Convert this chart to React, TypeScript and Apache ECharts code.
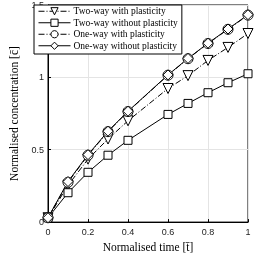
import React, { useEffect, useRef } from "react";
import * as echarts from "echarts";

const times = [0, 0.1, 0.2, 0.3, 0.4, 0.6, 0.7, 0.8, 0.9, 1.0];
const twoWayPlastic = [0.03, 0.254, 0.435, 0.574, 0.70, 0.923, 1.012, 1.117, 1.207, 1.303];
const twoWayNoPlastic = [0.03, 0.203, 0.344, 0.462, 0.565, 0.744, 0.82, 0.894, 0.963, 1.025];
const oneWayPlastic = [0.03, 0.275, 0.462, 0.625, 0.764, 1.015, 1.129, 1.234, 1.332, 1.43];
const oneWayNoPlastic = [0.03, 0.28, 0.466, 0.628, 0.766, 1.017, 1.131, 1.236, 1.334, 1.433];
const xTicks = [0, 0.2, 0.4, 0.6, 0.8, 1];
const yTicks = [0, 0.5, 1, 1.5];

const names = [
  "Two-way with plasticity",
  "Two-way without plasticity",
  "One-way with plasticity",
  "One-way without plasticity",
];

export default function App() {
  const ref = useRef<HTMLDivElement>(null);
  useEffect(() => {
    if (!ref.current) return;
    const chart = echarts.init(ref.current, null, { renderer: "svg" });
    const mk = (vals: number[]) => times.map((t, i) => [t, vals[i]]);
    const dashDot = [6, 2, 1, 2];
    const base = (name: string, vals: number[], symbol: string, dashed: boolean, rotate = 0) => ({
      name,
      type: "line",
      data: mk(vals),
      symbol,
      symbolSize: symbol === "rect" ? 8 : 10,
      symbolRotate: rotate,
      showSymbol: true,
      lineStyle: { color: "#000", width: 1, type: dashed ? dashDot : "solid" },
      itemStyle: { color: "#fff", borderColor: "#000", borderWidth: 1 },
      z: 3,
    });
    const fmt = (v: number) => {
      const s = String(+v.toFixed(1));
      return [...xTicks, ...yTicks].includes(+s) ? s : "";
    };
    chart.setOption({
      animation: false,
      grid: {
        left: 33,
        right: 6,
        top: 5,
        bottom: 30,
        show: true,
        borderColor: "#000",
        borderWidth: 1,
        backgroundColor: "transparent",
      },
      legend: {
        left: 34,
        top: 5,
        orient: "vertical",
        backgroundColor: "#fff",
        borderColor: "#000",
        borderWidth: 1,
        borderRadius: 0,
        padding: [1, 4, 3, 4],
        itemGap: 1,
        itemWidth: 32,
        itemHeight: 9,
        itemStyle: { color: "#fff", borderColor: "#000", borderWidth: 1 },
        lineStyle: { width: 1, color: "#000" },
        textStyle: {
          fontFamily: "Liberation Serif",
          fontSize: 9.5,
          lineHeight: 10.5,
          color: "#000",
          padding: [0, 0, 0, -2],
        },
        data: names,
      },
      xAxis: {
        type: "value",
        min: 0,
        max: 1,
        interval: 0.2,
        name: "Normalised time [t\u0304]",
        nameLocation: "middle",
        nameGap: 16,
        nameTextStyle: { fontFamily: "Liberation Serif", fontSize: 11.5, color: "#000" },
        axisLine: { show: true, lineStyle: { color: "#000", width: 1 } },
        axisTick: { show: true, inside: true, length: 3, lineStyle: { color: "#000" } },
        axisLabel: {
          fontFamily: "Liberation Sans",
          fontSize: 9,
          color: "#222",
          margin: 5,
          formatter: fmt,
        },
        splitLine: { show: true, lineStyle: { color: "#e4e4e4", width: 1 } },
      },
      yAxis: {
        type: "value",
        min: 0,
        max: 1.5,
        interval: 0.5,
        name: "Normalised concentration [c\u0304]",
        nameLocation: "middle",
        nameGap: 28,
        nameTextStyle: { fontFamily: "Liberation Serif", fontSize: 11.5, color: "#000" },
        axisLine: { show: true, lineStyle: { color: "#000", width: 1 } },
        axisTick: { show: true, inside: true, length: 3, lineStyle: { color: "#000" } },
        axisLabel: {
          fontFamily: "Liberation Sans",
          fontSize: 9,
          color: "#222",
          margin: 4,
          showMaxLabel: true,
          formatter: fmt,
        },
        splitLine: { show: true, lineStyle: { color: "#e4e4e4", width: 1 } },
      },
      series: [
        base(names[0], twoWayPlastic, "triangle", true, 180),
        base(names[1], twoWayNoPlastic, "rect", false),
        base(names[2], oneWayPlastic, "circle", true),
        base(names[3], oneWayNoPlastic, "diamond", false),
      ],
    });
    return () => chart.dispose();
  }, []);
  return (
    <div
      ref={ref}
      style={{ position: "fixed", left: 0, top: 0, width: 254, height: 258 }}
    />
  );
}
